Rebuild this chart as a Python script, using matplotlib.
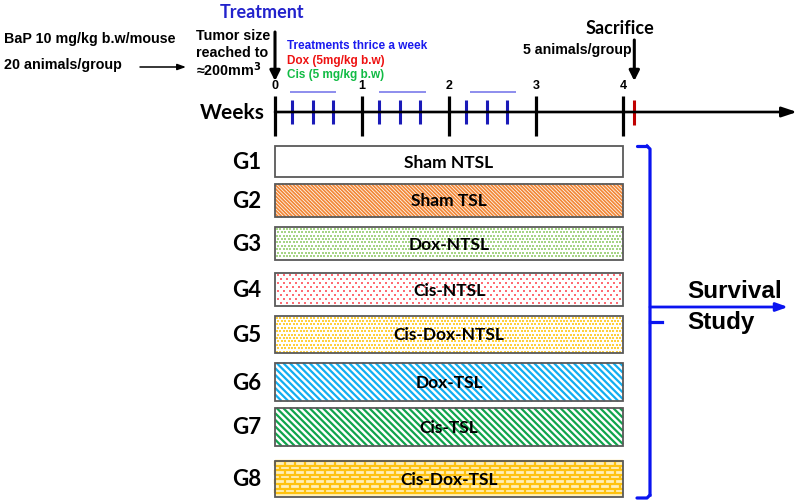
import matplotlib
matplotlib.use("Agg")
import matplotlib.pyplot as plt
from matplotlib.patches import Rectangle
from matplotlib.collections import LineCollection
import numpy as np

# ---- data ----
groups = ["G1", "G2", "G3", "G4", "G5", "G6", "G7", "G8"]
treatments = ["Sham NTSL", "Sham TSL", "Dox-NTSL", "Cis-NTSL",
              "Cis-Dox-NTSL", "Dox-TSL", "Cis-TSL", "Cis-Dox-TSL"]
week_marks = [0, 1, 2, 3, 4]
dose_weeks = [0.2, 0.44, 0.67, 1.2, 1.44, 1.67, 2.2, 2.44, 2.67]
dose_blocks = [(0.17, 0.70), (1.2, 1.73), (2.24, 2.77)]
study_start, study_end = 0, 4
sacrifice_week = 4.13

# bar rows (pixel tops / bottoms of each group bar)
bar_top = [146, 184, 227, 273, 316, 363, 408, 461]
bar_bot = [177, 217, 260, 306, 353, 401, 446, 497]

CAL = "Lato"
ARI = "Liberation Sans"

W, H = 800, 503
fig = plt.figure(figsize=(W / 100, H / 100), dpi=100)

# week axis: week 0 at x=275px, 87 px per week
px0, ppw = 275, 87
ax = fig.add_axes([0, 0, 1, 1])
ax.set_xlim(-px0 / ppw, (W - px0) / ppw)
ax.set_ylim(H, 0)
ax.axis("off")

# pixel overlay for annotations
ov = fig.add_axes([0, 0, 1, 1], facecolor="none")
ov.set_xlim(0, W)
ov.set_ylim(H, 0)
ov.axis("off")

# ---- timeline ----
axis_y = 112
ax.annotate("", xy=((797 - px0) / ppw, axis_y), xytext=(study_start, axis_y),
            arrowprops=dict(arrowstyle="-|>,head_length=0.9,head_width=0.3",
                            color="black", lw=1.9, shrinkA=0, shrinkB=0))
ax.vlines(week_marks, 96, 136, color="black", lw=2.3)
for w in week_marks:
    ax.text(w, 86, str(w), ha="center", va="center", fontsize=9,
            fontweight="bold", family=ARI)
ax.vlines(dose_weeks, 100, 124, color="#1a1ab8", lw=2.2)
for a, b in dose_blocks:
    ax.hlines(92, a, b, color="#6f6fe8", lw=1.1)
ax.vlines([sacrifice_week], 100, 125, color="#c00000", lw=2.2)
ov.text(265, axis_y + 1, "Weeks", ha="right", va="center", fontsize=15,
        fontweight="bold", family=CAL)

# ---- group bars ----
def stripes(x0, x1, y0, y1, color, period, lw):
    # diagonal "\" stripes, cut to the bar outline
    xs0, xs1 = x0 * ppw, x1 * ppw
    hgt = y1 - y0
    segs = []
    for s in np.arange(xs0 - hgt, xs1 + period, period):
        ya, yb = y0, y1
        xa, xb = s, s + hgt
        if xa < xs0:
            ya = y0 + (xs0 - xa)
            xa = xs0
        if xb > xs1:
            yb = y1 - (xb - xs1)
            xb = xs1
        if yb > ya:
            segs.append([(xa / ppw, ya), (xb / ppw, yb)])
    ax.add_collection(LineCollection(segs, colors=color, linewidths=lw,
                                     capstyle="butt", zorder=2))

def dots(x0, x1, y0, y1, color, dx, dy, size):
    xs = np.arange(x0 * ppw + dx / 2, x1 * ppw - 1, dx)
    ys = np.arange(y0 + dy / 2, y1 - 1, dy)
    for i, yy in enumerate(ys):
        off = dx / 2 if i % 2 else 0
        xx = xs + off
        xx = xx[xx < x1 * ppw - 1]
        ax.scatter(xx / ppw, np.full(len(xx), yy), s=size, c=color,
                   marker="s", linewidths=0, zorder=2)

def bricks(x0, x1, y0, y1, color, bw, bh, lw):
    ys = np.arange(y0, y1 + 0.1, bh)
    ax.hlines(ys, x0, x1, color=color, lw=lw, zorder=2)
    for i, yy in enumerate(ys[:-1]):
        off = bw / 2 if i % 2 else 0
        xs = np.arange(x0 * ppw + off, x1 * ppw, bw) / ppw
        ax.vlines(xs, yy, min(yy + bh, y1), color=color, lw=lw, zorder=2)

styles = [None,
          ("stripes", "#f28838", 3.6, 1.3),
          ("dots", "#a6d486", 3.4, 3.4, 3.0),
          ("dots", "#ff6c74", 6.0, 4.0, 2.8),
          ("dots", "#ffd040", 3.4, 3.4, 3.0),
          ("stripes", "#12aef0", 6.6, 1.6),
          ("stripes", "#10a44c", 6.6, 1.6),
          ("bricks", "#ffc20e", 10.0, 4.6, 1.6)]

for g, name, t, b, st in zip(groups, treatments, bar_top, bar_bot, styles):
    face = "#fff0b8" if (st and st[0] == "bricks") else "white"
    ax.add_patch(Rectangle((study_start, t), study_end - study_start, b - t,
                           facecolor=face, edgecolor="none", zorder=1))
    if st is not None:
        if st[0] == "stripes":
            stripes(study_start, study_end, t, b, st[1], st[2], st[3])
        elif st[0] == "dots":
            dots(study_start, study_end, t, b, st[1], st[2], st[3], st[4])
        else:
            bricks(study_start, study_end, t, b, st[1], st[2], st[3], st[4])
    ax.add_patch(Rectangle((study_start, t), study_end - study_start, b - t,
                           facecolor="none", edgecolor="#595959", lw=1.3,
                           zorder=3))
    ax.text((study_start + study_end) / 2, (t + b) / 2 + 1, name,
            ha="center", va="center", fontsize=12.5, fontweight="bold",
            family=CAL, zorder=4)
    ov.text(247, (t + b) / 2 + 1, g, ha="center", va="center", fontsize=16,
            fontweight="bold", family=CAL)

# ---- left annotations ----
ov.text(4, 39, "BaP 10 mg/kg b.w/mouse", ha="left", va="center",
        fontsize=10.3, fontweight="bold", family=ARI)
ov.text(4, 65, "20 animals/group", ha="left", va="center",
        fontsize=10.3, fontweight="bold", family=ARI)
ov.annotate("", xy=(186, 67), xytext=(140, 67),
            arrowprops=dict(arrowstyle="-|>,head_length=0.5,head_width=0.18",
                            color="black", lw=1.1, shrinkA=0, shrinkB=0))
ov.text(196, 36, "Tumor size", ha="left", va="center", fontsize=10.3,
        fontweight="bold", family=ARI)
ov.text(196, 53, "reached to", ha="left", va="center", fontsize=10.3,
        fontweight="bold", family=ARI)
ov.text(196, 70, "\u2248200mm$^{\\mathbf{3}}$", ha="left", va="center",
        fontsize=10.3, fontweight="bold", family=ARI)
ax.annotate("", xy=(study_start, 81), xytext=(study_start, 32),
            arrowprops=dict(arrowstyle="-|>,head_length=0.6,head_width=0.3",
                            color="black", lw=2.2, shrinkA=0, shrinkB=0))
ov.text(262, 12, "Treatment", ha="center", va="center", fontsize=13,
        fontweight="bold", family=CAL, color="#2222cc")
ov.text(287, 46, "Treatments thrice a week", ha="left", va="center",
        fontsize=8.5, fontweight="bold", family=ARI, color="#1a1aee")
ov.text(287, 61, "Dox (5mg/kg b.w)", ha="left", va="center",
        fontsize=8.5, fontweight="bold", family=ARI, color="#ee1111")
ov.text(287, 75, "Cis (5 mg/kg b.w)", ha="left", va="center",
        fontsize=8.5, fontweight="bold", family=ARI, color="#11bb44")

# ---- sacrifice ----
ov.text(620, 28, "Sacrifice", ha="center", va="center", fontsize=13,
        fontweight="bold", family=CAL)
ov.text(632, 50, "5 animals/group", ha="right", va="center", fontsize=10.2,
        fontweight="bold", family=ARI)
ax.annotate("", xy=(sacrifice_week, 81), xytext=(sacrifice_week, 40),
            arrowprops=dict(arrowstyle="-|>,head_length=0.6,head_width=0.3",
                            color="black", lw=2.2, shrinkA=0, shrinkB=0))

# ---- survival bracket ----
blue = "#0a14f0"
bx = 650
ov.plot([637, bx - 3], [146, 146], color=blue, lw=2.3, solid_capstyle="round")
ov.plot([bx - 3, bx, bx], [146, 149, 495], color=blue, lw=2.3,
        solid_joinstyle="round")
ov.plot([bx, bx - 3, 637], [495, 498, 498], color=blue, lw=2.3,
        solid_capstyle="round")
ov.plot([bx, 662], [322, 322], color=blue, lw=2.3)
ov.annotate("", xy=(788, 307), xytext=(bx, 307),
            arrowprops=dict(arrowstyle="-|>,head_length=0.7,head_width=0.25",
                            color=blue, lw=2.0, shrinkA=0, shrinkB=0))
ov.text(687, 292, "Survival", ha="left", va="center", fontsize=17.5,
        fontweight="bold", family=ARI)
ov.text(687, 322, "Study", ha="left", va="center", fontsize=17.5,
        fontweight="bold", family=ARI)

fig.savefig("out.png", dpi=100)
